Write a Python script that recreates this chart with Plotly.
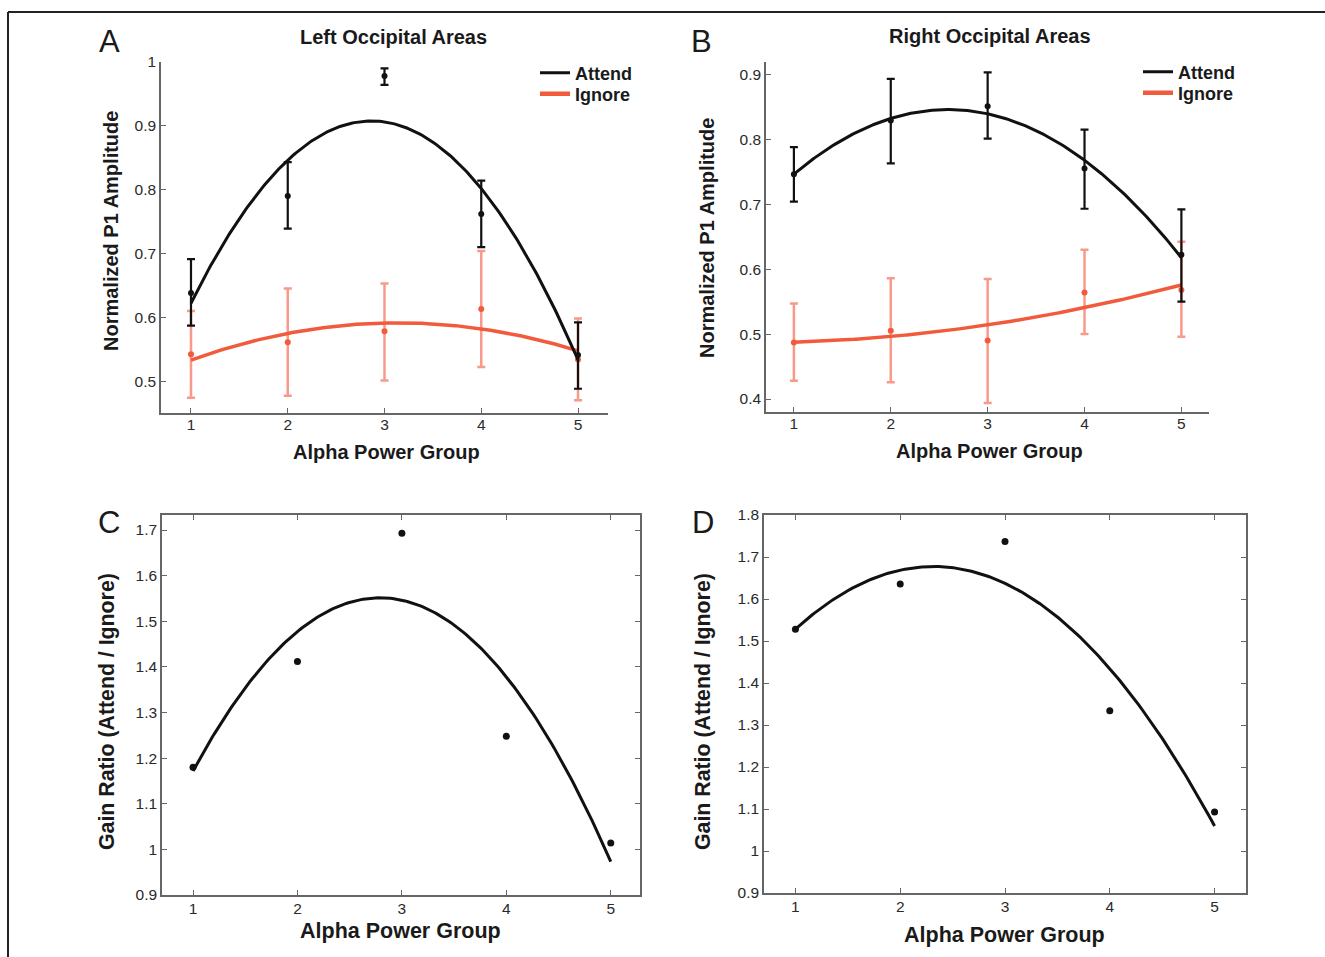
import numpy as np
import plotly.graph_objects as go

# ---------------- data ----------------
groups = [1, 2, 3, 4, 5]

# Panel A - Left occipital
left_attend = [0.638, 0.790, 0.978, 0.762, 0.541]
left_attend_hi = [0.691, 0.843, 0.990, 0.814, 0.592]
left_attend_lo = [0.587, 0.739, 0.964, 0.710, 0.488]
left_ignore = [0.542, 0.561, 0.578, 0.613, 0.534]
left_ignore_hi = [0.610, 0.645, 0.653, 0.704, 0.598]
left_ignore_lo = [0.474, 0.477, 0.501, 0.522, 0.470]

# Panel B - Right occipital
right_attend = [0.746, 0.829, 0.851, 0.755, 0.622]
right_attend_hi = [0.788, 0.893, 0.903, 0.815, 0.692]
right_attend_lo = [0.704, 0.763, 0.801, 0.693, 0.550]
right_ignore = [0.487, 0.505, 0.490, 0.564, 0.568]
right_ignore_hi = [0.547, 0.586, 0.585, 0.630, 0.642]
right_ignore_lo = [0.428, 0.426, 0.394, 0.500, 0.496]

# Panels C, D - gain ratio
left_ratio = [1.180, 1.412, 1.693, 1.248, 1.014]
right_ratio = [1.528, 1.636, 1.737, 1.334, 1.093]

tickA = [0.5, 0.6, 0.7, 0.8, 0.9, 1.0]
tickA_txt = ["0.5", "0.6", "0.7", "0.8", "0.9", "1"]
tickB = [0.4, 0.5, 0.6, 0.7, 0.8, 0.9]
tickB_txt = ["0.4", "0.5", "0.6", "0.7", "0.8", "0.9"]
tickC = [0.9, 1.0, 1.1, 1.2, 1.3, 1.4, 1.5, 1.6, 1.7]
tickC_txt = ["0.9", "1", "1.1", "1.2", "1.3", "1.4", "1.5", "1.6", "1.7"]
tickD = [0.9, 1.0, 1.1, 1.2, 1.3, 1.4, 1.5, 1.6, 1.7, 1.8]
tickD_txt = ["0.9", "1", "1.1", "1.2", "1.3", "1.4", "1.5", "1.6", "1.7", "1.8"]

# ---------------- layout helpers ----------------
W, H = 1325, 957
def px(x):
    return x / W
def py(y):
    return 1 - y / H

BLACK = "#111111"
RED = "#f25a3c"
RED_BAR = "rgba(244,100,75,0.65)"
AXC = "#666666"
TICKFONT = dict(family="Liberation Sans", size=15.5, color="#2a2a2a")
BOLD = "Liberation Sans"

xfine = np.linspace(1, 5, 200)
def fit(y):
    c = np.polyfit(groups, y, 2)
    return np.polyval(c, xfine)

def errs(mean, hi, lo):
    return ([h - m for h, m in zip(hi, mean)], [m - l for m, l in zip(mean, lo)])

fig = go.Figure()

def add_err(xa, ya, mean, hi, lo, color, barcolor, thick):
    up, dn = errs(mean, hi, lo)
    fig.add_trace(go.Scatter(
        x=groups, y=mean, mode="markers", xaxis=xa, yaxis=ya,
        marker=dict(color=color, size=6),
        error_y=dict(type="data", array=up, arrayminus=dn, color=barcolor,
                     thickness=thick, width=4),
        showlegend=False, hoverinfo="skip"))

def add_fit(xa, ya, y, color, width):
    fig.add_trace(go.Scatter(
        x=xfine, y=fit(y), mode="lines", xaxis=xa, yaxis=ya,
        line=dict(color=color, width=width),
        showlegend=False, hoverinfo="skip"))

# Panel A
add_err("x", "y", left_ignore, left_ignore_hi, left_ignore_lo, RED, RED_BAR, 2.5)
add_fit("x", "y", left_ignore, RED, 3.5)
add_fit("x", "y", left_attend, BLACK, 3)
add_err("x", "y", left_attend, left_attend_hi, left_attend_lo, BLACK, BLACK, 2.2)
# Panel B
add_err("x2", "y2", right_ignore, right_ignore_hi, right_ignore_lo, RED, RED_BAR, 2.5)
add_fit("x2", "y2", right_ignore, RED, 3.5)
add_fit("x2", "y2", right_attend, BLACK, 3)
add_err("x2", "y2", right_attend, right_attend_hi, right_attend_lo, BLACK, BLACK, 2.2)
# Panel C
add_fit("x3", "y3", left_ratio, BLACK, 3)
fig.add_trace(go.Scatter(x=groups, y=left_ratio, mode="markers", xaxis="x3", yaxis="y3",
                         marker=dict(color=BLACK, size=7), showlegend=False, hoverinfo="skip"))
# Panel D
add_fit("x4", "y4", right_ratio, BLACK, 3)
fig.add_trace(go.Scatter(x=groups, y=right_ratio, mode="markers", xaxis="x4", yaxis="y4",
                         marker=dict(color=BLACK, size=7), showlegend=False, hoverinfo="skip"))

# legend entries: one legend per entry so each can be placed exactly
legend_entries = [("Attend", BLACK, 3, "x", "y", "legend"),
                  ("Ignore", RED, 4.5, "x", "y", "legend2"),
                  ("Attend", BLACK, 3, "x2", "y2", "legend3"),
                  ("Ignore", RED, 4.5, "x2", "y2", "legend4")]
for nm, col, wd, xa, ya, lg in legend_entries:
    fig.add_trace(go.Scatter(x=[None], y=[None], mode="lines", xaxis=xa, yaxis=ya,
                             line=dict(color=col, width=wd), name=nm, legend=lg))

def xax(dom, rng, box=False, anchor="y", standoff=0):
    return dict(domain=[px(dom[0]), px(dom[1])], range=rng, anchor=anchor,
                tickvals=groups, ticktext=[str(g) for g in groups],
                ticks="inside", ticklen=5, tickwidth=1.2, tickcolor=AXC,
                ticklabelstandoff=standoff,
                showline=True, linecolor=AXC, linewidth=1.5,
                mirror="ticks" if box else False,
                showgrid=False, zeroline=False, tickfont=TICKFONT, fixedrange=True)

def yax(dom, rng, tv, tt, box=False, anchor="x"):
    return dict(domain=[py(dom[0]), py(dom[1])], range=rng, anchor=anchor,
                tickvals=tv, ticktext=tt,
                ticks="inside", ticklen=5, tickwidth=1.2, tickcolor=AXC,
                showline=True, linecolor=AXC, linewidth=1.5,
                mirror="ticks" if box else False,
                showgrid=False, zeroline=False, tickfont=TICKFONT, fixedrange=True)

ann = []
def text(x, y, s, size, bold=True, angle=0, family=BOLD):
    ann.append(dict(x=px(x), y=py(y), xref="paper", yref="paper", text=s,
                    showarrow=False, textangle=angle, xanchor="center", yanchor="middle",
                    font=dict(family=family, size=size, color="#1a1a1a",
                              weight="bold" if bold else "normal")))

text(109, 41, "A", 31, bold=False)
text(701, 41, "B", 31, bold=False)
text(109, 522, "C", 31, bold=False)
text(703, 522, "D", 31, bold=False)
text(393, 37, "Left Occipital Areas", 20)
text(990, 36, "Right Occipital Areas", 20)
text(111, 231, "Normalized P1 Amplitude", 20, angle=-90)
text(707, 238, "Normalized P1 Amplitude", 20, angle=-90)
text(107, 711, "Gain Ratio (Attend / Ignore)", 21.3, angle=-90)
text(703, 712, "Gain Ratio (Attend / Ignore)", 21.3, angle=-90)
text(386, 452, "Alpha Power Group", 20)
text(990, 451, "Alpha Power Group", 20)
text(400, 931, "Alpha Power Group", 21.5)
text(1004, 935, "Alpha Power Group", 21.5)

legfont = dict(family=BOLD, size=18, color="#1a1a1a", weight="bold")
def leg(x, y):
    return dict(x=px(x), y=py(y), xanchor="left", yanchor="middle",
                bgcolor="rgba(0,0,0,0)", font=legfont, itemwidth=30, borderwidth=0)

fig.update_layout(
    autosize=True, margin=dict(l=0, r=0, t=0, b=0, autoexpand=False),
    paper_bgcolor="white", plot_bgcolor="rgba(0,0,0,0)",
    xaxis=xax((161, 608), [0.69, 5.31], anchor="y", standoff=-3),
    yaxis=yax((413, 62), [0.45, 1.0], tickA, tickA_txt, anchor="x"),
    xaxis2=xax((766, 1209), [0.712, 5.285], anchor="y2", standoff=-3),
    yaxis2=yax((412, 62), [0.380, 0.919], tickB, tickB_txt, anchor="x2"),
    xaxis3=xax((162, 640), [0.703, 5.28], box=True, anchor="y3", standoff=-1),
    yaxis3=yax((895, 515), [0.9, 1.733], tickC, tickC_txt, box=True, anchor="x3"),
    xaxis4=xax((764, 1246), [0.70, 5.30], box=True, anchor="y4", standoff=-1),
    yaxis4=yax((893, 515), [0.9, 1.8], tickD, tickD_txt, box=True, anchor="x4"),
    legend=leg(535, 73),
    legend2=leg(535, 94),
    legend3=leg(1138, 72),
    legend4=leg(1138, 93),
    annotations=ann,
    shapes=[
        dict(type="line", xref="paper", yref="paper", x0=px(8), x1=1.0, y0=py(12), y1=py(12),
             line=dict(color="#222222", width=2)),
        dict(type="line", xref="paper", yref="paper", x0=px(8), x1=px(8), y0=py(12), y1=0,
             line=dict(color="#222222", width=2)),
    ],
)

fig.write_html(
    "out.html",
    config={"displayModeBar": False, "responsive": True},
    default_width="100vw", default_height="100vh",
    post_script=("document.documentElement.style.margin='0';"
                 "document.body.style.margin='0';"
                 "document.body.style.overflow='hidden';"
                 "var gd=document.getElementById('{plot_id}');"
                 "gd.style.width='100vw';gd.style.height='100vh';"
                 "Plotly.Plots.resize(gd);"),
)
